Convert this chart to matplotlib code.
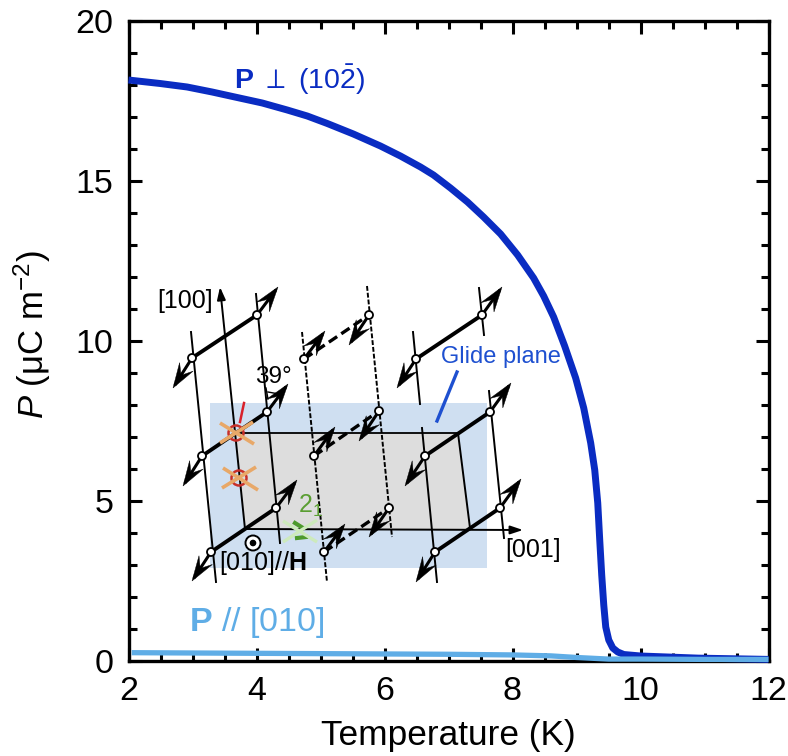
import numpy as np
import matplotlib
matplotlib.use("Agg")
import matplotlib.pyplot as plt
from matplotlib.patches import Circle, Polygon, Rectangle
from matplotlib.ticker import MultipleLocator

plt.rcParams['font.family'] = ['Liberation Sans', 'DejaVu Sans']
plt.rcParams['mathtext.fontset'] = 'custom'
plt.rcParams['mathtext.rm'] = 'Liberation Sans'
plt.rcParams['mathtext.bf'] = 'Liberation Sans:bold'
plt.rcParams['mathtext.it'] = 'Liberation Sans:italic'

# ---- measured curves ----
T_perp = [2.0, 2.493, 2.915, 3.307, 3.698, 4.089, 4.480, 4.793, 5.106, 5.513, 5.936, 6.249, 6.562, 6.765,
          7.031, 7.297, 7.548, 7.814, 8.080, 8.330, 8.487, 8.643, 8.815, 8.987, 9.113, 9.222, 9.285, 9.332,
          9.363, 9.394, 9.426, 9.457, 9.504, 9.567, 9.645, 9.739, 10.005, 10.9, 12.0]
P_perp = [18.156, 18.047, 17.938, 17.781, 17.609, 17.438, 17.219, 17.031, 16.797, 16.469, 16.094, 15.781,
          15.438, 15.188, 14.781, 14.344, 13.875, 13.344, 12.688, 11.969, 11.406, 10.75, 9.844, 8.844, 7.906,
          6.813, 5.969, 4.938, 3.781, 2.688, 1.75, 1.063, 0.656, 0.406, 0.281, 0.203, 0.156, 0.09, 0.05]
T_par = [2.05, 3.0, 4.0, 5.0, 6.0, 7.0, 8.0, 8.6, 9.0, 9.5, 10.0, 11.0, 12.0]
P_par = [0.26, 0.25, 0.24, 0.23, 0.22, 0.21, 0.19, 0.16, 0.11, 0.06, 0.06, 0.05, 0.05]

x_ticks = [2, 4, 6, 8, 10, 12]
y_ticks = [0, 5, 10, 15, 20]

# ---- inset schematic geometry, in picture pixels ----
# each pair: left atom, left arrow tip, right atom, right arrow tip
solid_pairs = [
    ((192, 358), (173, 388), (257, 315), (278, 287)),
    ((202, 456), (183, 486), (267, 412), (288, 384)),
    ((211, 552), (192, 581), (276, 508), (297, 480)),
    ((416, 359), (397, 388), (482, 315), (502, 287)),
    ((425, 456), (405, 486), (490, 412), (511, 383)),
    ((435, 552), (416, 582), (500, 508), (521, 479)),
]
dashed_pairs = [
    ((304, 359), (325, 331), (369, 315), (349, 345)),
    ((314, 456), (335, 427), (379, 411), (359, 441)),
    ((324, 552), (345, 524), (389, 508), (369, 537)),
]
solid_rods = [
    ((191, 332), (216, 582)), ((256, 294), (280, 543)),
    ((413, 332), (420, 404)), ((422, 428), (437, 582)),
    ((479, 288), (484, 335)), ((489, 391), (504, 538)),
    ((458, 433), (470, 528)),
]
dashed_rods = [((302, 332), (327, 582)), ((367, 286), (392, 537))]
blue_rect = (210, 403, 487, 568)
gray_poly = [(236, 433), (458, 433), (470, 529), (245, 529)]
gray_top = ((236, 433), (458, 433))
axis_100 = ((245, 529), (220, 287))
axis_001 = ((245, 529), (523, 530))
mirror_circles = [(236, 433), (239, 478)]
orange_bars = [((220, 443), (253, 422)), ((220, 423), (254, 444)),
               ((222, 488), (256, 467)), ((223, 468), (258, 490))]
green_bars = [((283, 542), (317, 520)), ((283, 521), (317, 542))]
green_marks = [((295, 523), (303, 528)), ((297, 538), (306, 537))]
red_bar = ((240, 422), (244, 403))
glide_bar = ((457, 372), (437, 421))
angle_marks = [((266, 388), (268, 399)), ((268, 392), (279, 394))]
field_symbol = (253, 543)

BLUE = '#0a2cc2'
LIGHT = '#5fade6'

fig = plt.figure(figsize=(7.88, 7.56), dpi=100)
W, H = 788, 756
L, R, TP, B = 128.5, 768.5, 21, 661
ax = fig.add_axes([L / W, 1 - B / H, (R - L) / W, (B - TP) / H])
ax.set_xlim(2, 12)
ax.set_ylim(0, 20)
ax.set_xticks(x_ticks)
ax.set_yticks(y_ticks)
ax.xaxis.set_minor_locator(MultipleLocator(0.5))
ax.yaxis.set_minor_locator(MultipleLocator(1))
ax.tick_params(which='major', direction='in', length=9.5, width=2.2, top=True, right=True, labelsize=24.5)
ax.tick_params(which='minor', direction='in', length=5.5, width=2.2, top=True, right=True)
ax.tick_params(axis='x', which='major', pad=11)
ax.tick_params(axis='y', which='major', pad=11)
for s in ax.spines.values():
    s.set_linewidth(2.4)
ax.set_xlabel('Temperature (K)', fontsize=25.4)
ax.xaxis.set_label_coords((448 - L) / (R - L), -(736 - B) / (B - TP), transform=ax.transAxes)
ax.xaxis.label.set_va('center')
ax.set_ylabel(r'$\mathit{P}$ (μC m$^{-2}$)', fontsize=25)
ax.yaxis.set_label_coords((32 - L) / (R - L), (B - 335) / (B - TP), transform=ax.transAxes)
ax.yaxis.label.set_va('center')

ax.plot(T_perp, P_perp, color=BLUE, lw=5, solid_joinstyle='round', solid_capstyle='butt', clip_on=False, zorder=5)
ax.plot(T_par, P_par, color=LIGHT, lw=3.8, solid_capstyle='butt', clip_on=False, zorder=6)

# overlay in pixel coordinates for the schematic
ov = fig.add_axes([0, 0, 1, 1], facecolor='none')
ov.set_xlim(0, W)
ov.set_ylim(H, 0)
ov.axis('off')
x0, y0, x1, y1 = blue_rect
ov.add_patch(Rectangle((x0, y0), x1 - x0, y1 - y0, fc='#cfdff1', ec='none', zorder=1))
ov.add_patch(Polygon(gray_poly, fc='#dddddd', ec='none', zorder=2))


def seg(p, q, **kw):
    ov.plot([p[0], q[0]], [p[1], q[1]], **kw)


def head(atom, tip, zorder=6):
    a, t = np.array(atom, float), np.array(tip, float)
    u = (t - a) / np.linalg.norm(t - a)
    n = np.array([-u[1], u[0]])
    ln, wd, notch = 25, 8, 15
    pts = [t, t - ln * u + wd * n, t - notch * u, t - ln * u - wd * n]
    ov.add_patch(Polygon(pts, fc='black', ec='black', lw=0.3, zorder=zorder))
    seg(a, t - 5 * u, color='black', lw=2.2, zorder=zorder)


for p, q in solid_rods:
    seg(p, q, color='black', lw=1.4, zorder=3)
for p, q in dashed_rods:
    seg(p, q, color='black', lw=1.4, ls=(0, (2.5, 1.0)), zorder=3)
seg(*gray_top, color='black', lw=1.3, zorder=3)

for la, lt, ra, rt in solid_pairs:
    seg(la, ra, color='black', lw=2.8, zorder=5, solid_capstyle='butt')
    head(la, lt)
    head(ra, rt)
for la, lt, ra, rt in dashed_pairs:
    seg(la, ra, color='black', lw=2.4, ls=(0, (3, 1.5)), zorder=5)
    head(la, lt)
    head(ra, rt)
for la, lt, ra, rt in solid_pairs + dashed_pairs:
    for atom in (la, ra):
        ov.add_patch(Circle(atom, 4, fc='white', ec='black', lw=1.3, zorder=7))

for (p, q) in (axis_100, axis_001):
    ov.annotate('', xy=q, xytext=p, zorder=4,
                arrowprops=dict(arrowstyle='-|>,head_length=0.75,head_width=0.25', color='black', lw=1.4,
                                shrinkA=0, shrinkB=0))

for c in mirror_circles:
    ov.add_patch(Circle(c, 7.5, fc='none', ec='#c8302a', lw=1.8, zorder=8))
for p, q in orange_bars:
    seg(p, q, color='#e8a868', lw=2.6, zorder=9, solid_capstyle='butt')
seg(*red_bar, color='#d8202a', lw=1.8, zorder=9)
for p, q in green_marks:
    seg(p, q, color='#4d9a2c', lw=3, zorder=9)
for p, q in green_bars:
    seg(p, q, color='#cdeabc', lw=2.4, zorder=10, solid_capstyle='butt')
for p, q in angle_marks:
    seg(p, q, color='black', lw=1.0, zorder=6)
seg(*glide_bar, color='#1e50d0', lw=2.4, zorder=6)
ov.add_patch(Circle(field_symbol, 7.5, fc='white', ec='black', lw=1.4, zorder=8))
ov.add_patch(Circle(field_symbol, 2.6, fc='black', ec='black', zorder=9))

ov.text(185, 301, '[100]', fontsize=18, ha='center', va='center', zorder=12)
ov.text(273, 377, '39°', fontsize=17.5, ha='center', va='center', zorder=12)
ov.text(533, 550, '[001]', fontsize=18, ha='center', va='center', zorder=12)
ov.text(219, 563, r'[010]//$\mathbf{H}$', fontsize=18, ha='left', va='center', zorder=12)
ov.text(501, 357, 'Glide plane', fontsize=17, color='#1e50d0', ha='center', va='center', zorder=12)
ov.text(298, 506, '2$_{1}$', fontsize=18, color='#5a9e32', ha='left', va='center', zorder=12)
ov.text(234, 80, r'$\mathbf{P}$ $\perp$ (10$\bar{\mathrm{2}}$)', fontsize=20.5, color=BLUE, ha='left', va='center', zorder=12)
ov.text(189, 622, r'$\mathbf{P}$ // [010]', fontsize=24.5, color=LIGHT, ha='left', va='center', zorder=12)

fig.savefig('out.png', dpi=100)
